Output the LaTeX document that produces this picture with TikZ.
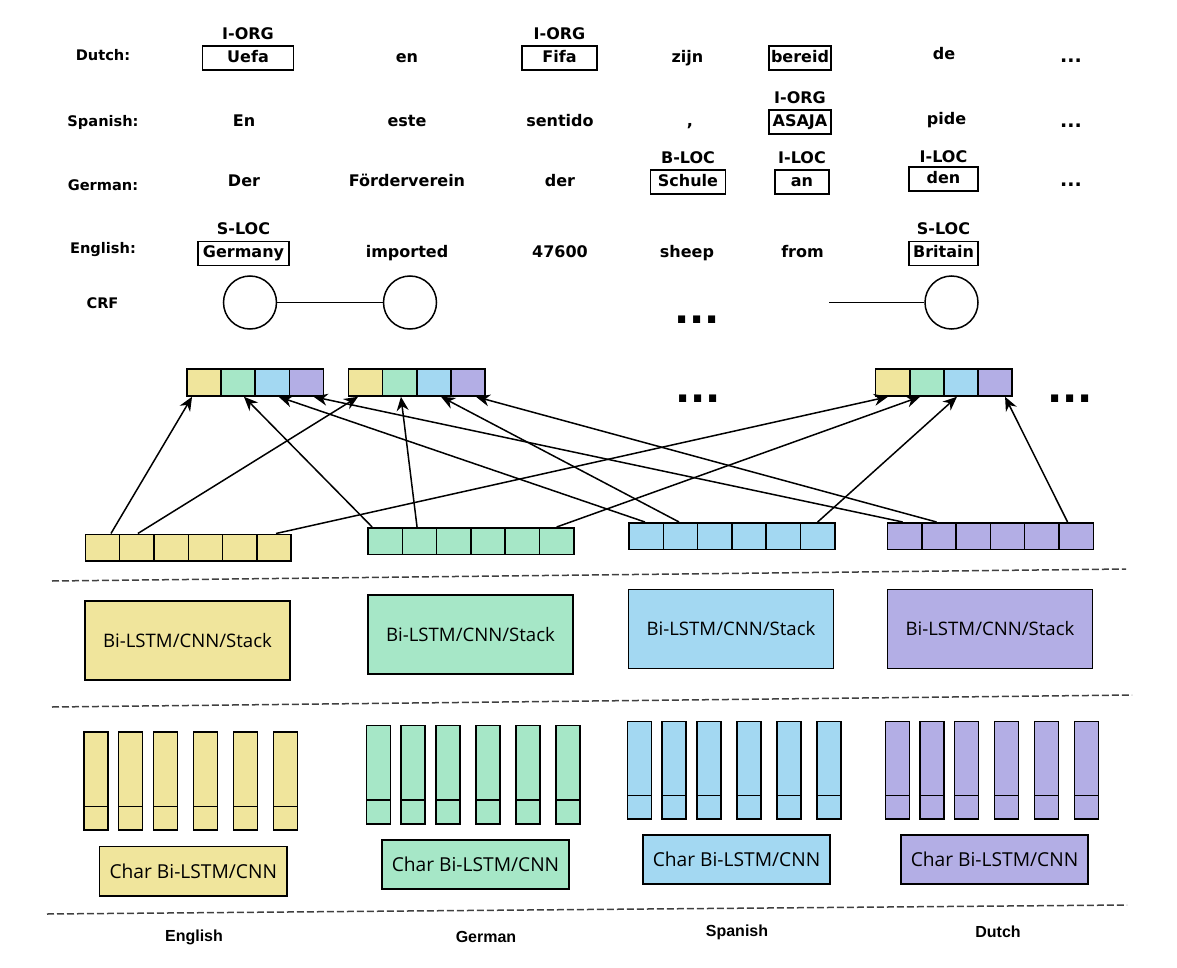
\documentclass[tikz,border=0pt]{standalone}
\usepackage{fontspec}
\setmainfont{DejaVu Sans}
\newfontfamily\boxfont{Open Sans}
\newfontfamily\langfont{Liberation Sans}
\usetikzlibrary{arrows.meta,positioning}
\definecolor{cEn}{RGB}{240,229,156}
\definecolor{cDe}{RGB}{166,231,199}
\definecolor{cEs}{RGB}{163,216,242}
\definecolor{cNl}{RGB}{179,174,229}

\begin{document}
\begin{tikzpicture}[x=0.5pt,y=-0.5pt,line width=0.75pt,
	>={Stealth[length=7pt,width=6pt]},
	word/.style={font=\fontsize{8}{9}\selectfont\bfseries,inner sep=0pt,text height=6pt,text depth=1.7pt},
	ent/.style={word,draw,inner ysep=2.15pt},
	rowlabel/.style={font=\fontsize{7.3}{9}\selectfont\bfseries},
	dots/.style={font=\fontsize{9.5}{10}\selectfont\bfseries,anchor=base,inner sep=0pt},
	bigdots/.style={font=\fontsize{20}{20}\selectfont\bfseries,anchor=base,inner sep=0pt},
	crf/.style={circle,draw,minimum size=26.5pt,inner sep=0pt},
	cell/.style={draw,minimum width=17.15pt,minimum height=13.25pt,inner sep=0pt},
	stackbox/.style={draw,minimum width=102.5pt,minimum height=39.5pt,font=\boxfont\fontsize{9.3}{11}\selectfont},
	charbox/.style={draw,minimum width=93.7pt,minimum height=24.6pt,font=\boxfont\fontsize{9.6}{11}\selectfont},
	langname/.style={font=\langfont\bfseries\fontsize{8}{9.6}\selectfont},
	sep/.style={dash pattern=on 3.5pt off 1.5pt,black!75}]
	\useasboundingbox (0,0) rectangle (1177,968);

	\node[rowlabel] (lblNl) at (103,55) {Dutch:};
	\node[ent,minimum width=45.5pt] (uefa) at (248,58) {Uefa};
	\node[word] (en) at (407,58) {en};
	\node[ent,minimum width=37.5pt] (fifa) at (559.5,58) {Fifa};
	\node[word] (zijn) at (687.5,58) {zijn};
	\node[ent,minimum width=31pt] (bereid) at (800,58) {bereid};
	\node[word] (de) at (944,55.5) {de};
	\node[dots] (dotsNl) at (1071,63) {...};
	\node[word,above=1pt of uefa] (tUefa) {I-ORG};
	\node[word,above=1pt of fifa] (tFifa) {I-ORG};

	\node[rowlabel] (lblEs) at (103,122.5) {Spanish:};
	\node[word] (En) at (244,122) {En};
	\node[word] (este) at (407,122) {este};
	\node[word] (sentido) at (560,122) {sentido};
	\node[word] (comma) at (690,122) {,};
	\node[ent,minimum width=31pt] (asaja) at (800,122) {ASAJA};
	\node[word] (pide) at (946.5,120) {pide};
	\node[dots] (dotsEs) at (1071,128) {...};
	\node[word,above=1pt of asaja] (tAsaja) {I-ORG};

	\node[rowlabel] (lblDe) at (103,185.5) {German:};
	\node[word] (Der) at (244,182) {Der};
	\node[word] (foerder) at (407,182) {Förderverein};
	\node[word] (der) at (560,182) {der};
	\node[ent,minimum width=37.5pt] (schule) at (688,182) {Schule};
	\node[ent,minimum width=27pt] (an) at (802,182) {an};
	\node[ent,minimum width=34.5pt] (den) at (943.5,179) {den};
	\node[dots] (dotsDe) at (1071,187) {...};
	\node[word,above=1pt of schule] (tSchule) {B-LOC};
	\node[word,above=1pt of an] (tAn) {I-LOC};
	\node[word,above=0pt of den] (tDen) {I-LOC};

	\node[rowlabel] (lblEn) at (103,250) {English:};
	\node[ent,minimum width=45.5pt] (germany) at (243.5,253.5) {Germany};
	\node[word] (imported) at (407,253.5) {imported};
	\node[word] (num) at (560,253.5) {47600};
	\node[word] (sheep) at (687,253.5) {sheep};
	\node[word] (from) at (802.5,253.5) {from};
	\node[ent,minimum width=34.5pt] (britain) at (943.5,253.5) {Britain};
	\node[word,above=1pt of germany] (tGermany) {S-LOC};
	\node[word,above=1pt of britain] (tBritain) {S-LOC};

	\node[rowlabel] (lblCrf) at (102.5,303) {CRF};
	\node[crf] (c1) at (250,302.5) {};
	\node[crf] (c2) at (410,302.5) {};
	\node[crf] (c3) at (951.5,302.5) {};
	\coordinate (cIn) at (829,302.5);
	\node[bigdots] (dotsCrf) at (697,323) {...};
	\draw (c1) -- (c2);
	\draw (cIn) -- (c3);

	\foreach \v/\x in {va/187,vb/348.6,vc/875.7}
		\foreach \col [count=\i] in {cEn,cDe,cEs,cNl}
			\node[cell,minimum width=17.05pt,minimum height=13.5pt,fill=\col] (\v\i) at ({\x+34.1*(\i-0.5)},382.5) {};
	\node[bigdots] (dotsV1) at (698,402.5) {...};
	\node[bigdots] (dotsV2) at (1070,402.5) {...};

	\foreach \lang/\col/\x/\y in {en/cEn/85.4/547.5,de/cDe/368/541,es/cEs/629/536,nl/cNl/887.5/536}
		\foreach \i in {1,...,6}
			\node[cell,fill=\col] (\lang\i) at ({\x+34.3*(\i-0.5)},\y) {};

	\path[->]
	([xshift=4.2pt]en1.north) edge ([xshift=-6pt]va1.south)
	([xshift=0.5pt]en2.north) edge ([xshift=-3.8pt]vb1.south)
	([xshift=1pt]en6.north) edge ([xshift=-2.4pt]vc1.south)
	([xshift=-6.5pt]de1.north) edge ([xshift=2.9pt]va2.south)
	([xshift=-1.2pt]de2.north) edge ([xshift=0.6pt]vb2.south)
	(de6.north) edge ([xshift=-3.4pt]vc2.south)
	([xshift=-0.6pt]es1.north) edge ([xshift=3.2pt]va3.south)
	([xshift=-0.7pt]es2.north) edge ([xshift=3.6pt]vb3.south)
	(es6.north) edge ([xshift=-2pt]vc3.south)
	([xshift=-1pt]nl1.north) edge ([xshift=3.6pt]va4.south)
	([xshift=-1.2pt]nl2.north) edge ([xshift=4pt]vb4.south)
	([xshift=-4.3pt]nl6.north) edge ([xshift=5pt]vc4.south);

	\draw[sep] (52,581) -- (1126,569);
	\node[stackbox,fill=cEn] (stEn) at (187.5,640.5) {Bi-LSTM/CNN/Stack};
	\node[stackbox,fill=cDe] (stDe) at (470.5,634.3) {Bi-LSTM/CNN/Stack};
	\node[stackbox,fill=cEs] (stEs) at (731,629) {Bi-LSTM/CNN/Stack};
	\node[stackbox,fill=cNl] (stNl) at (990,629) {Bi-LSTM/CNN/Stack};
	\draw[sep] (52,707) -- (1132,695);

	\foreach \col/\x/\t/\b/\d in {cEn/96/732/830/806.5,cDe/378.5/725.7/824/800,cEs/639.6/721.7/819/795.7,cNl/897.3/721.7/819/795.7}
		\foreach \o in {0,34.6,69.4,109.3,149.3,189.3}
			\draw[fill=\col] ({\x+\o-12},\t) rectangle ({\x+\o+12},\b) ({\x+\o-12},\d) -- ({\x+\o+12},\d);
	\node[charbox,fill=cEn] (chEn) at (193.3,871.3) {Char Bi-LSTM/CNN};
	\node[charbox,fill=cDe] (chDe) at (475.5,864.5) {Char Bi-LSTM/CNN};
	\node[charbox,fill=cEs] (chEs) at (736.5,859.5) {Char Bi-LSTM/CNN};
	\node[charbox,fill=cNl] (chNl) at (994.5,859.5) {Char Bi-LSTM/CNN};
	\draw[sep] (47,914) -- (1127,905);

	\node[langname] (nEn) at (194,937) {English};
	\node[langname] (nDe) at (486,937) {German};
	\node[langname] (nEs) at (737,932) {Spanish};
	\node[langname] (nNl) at (998,932) {Dutch};
\end{tikzpicture}
\end{document}
